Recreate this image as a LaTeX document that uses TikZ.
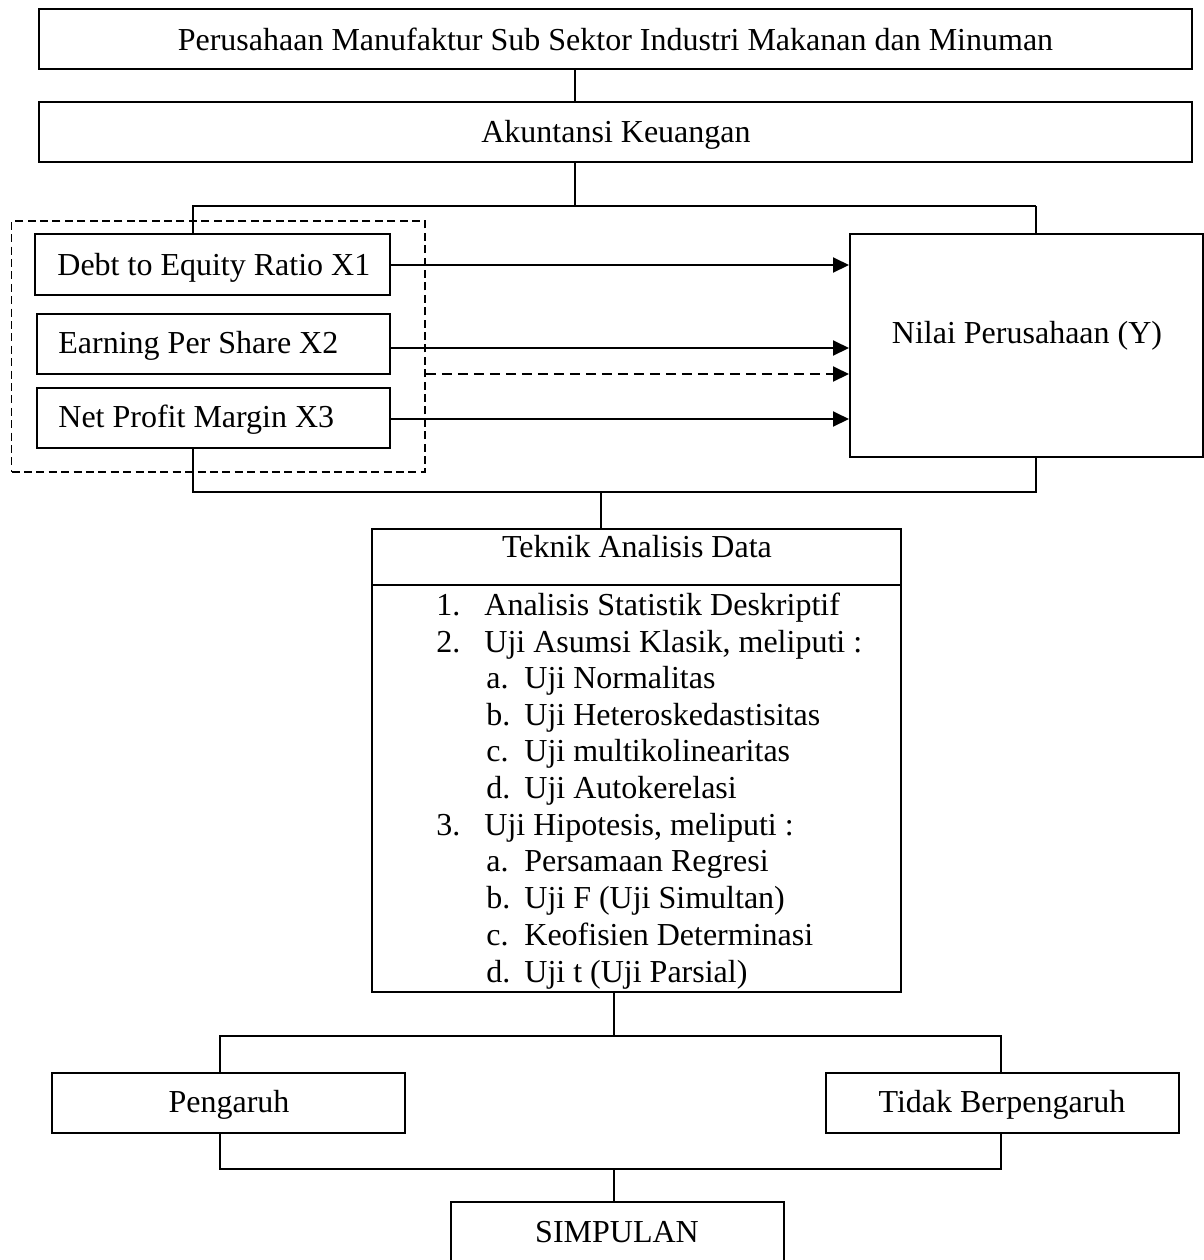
\documentclass[tikz,border=0pt]{standalone}
\usepackage{fontspec}
\setmainfont{Liberation Serif}
\usetikzlibrary{arrows.meta}
\begin{document}
\begin{tikzpicture}[x=0.5pt,y=-0.5pt,
  boxst/.style={draw, line width=1pt, inner sep=0pt, anchor=center},
  txt/.style={inner sep=0pt, font=\fontsize{16}{19}\selectfont},
  thinline/.style={line width=0.55pt},
  medline/.style={line width=1pt},
  arr/.style={line width=1pt, -{Triangle[length=8pt,width=7.5pt]}},
  dashbox/.style={draw, line width=0.75pt, dash pattern=on 4pt off 2.2pt, inner sep=0pt, anchor=center}
]
\useasboundingbox (0,0) rectangle (1204,1260);
\fill[white] (0,0) rectangle (1204,1260);

% boxes
\node[boxst, minimum width=576.5pt, minimum height=30pt] (top) at (615.5,39) {};
\node[boxst, minimum width=576.5pt, minimum height=30pt] (akun) at (615.5,132) {};
\node[dashbox, minimum width=206.75pt, minimum height=125.5pt] (dbox) at (218.25,346.5) {};
\node[boxst, fill=white, minimum width=177.5pt, minimum height=30.5pt] (x1) at (212.5,264.5) {};
\node[boxst, fill=white, minimum width=176.5pt, minimum height=30pt] (x2) at (213.5,344) {};
\node[boxst, fill=white, minimum width=176.5pt, minimum height=30pt] (x3) at (213.5,418) {};
\node[boxst, minimum width=176.5pt, minimum height=111.5pt] (nilai) at (1026.5,345.5) {};
\node[boxst, minimum width=264.5pt, minimum height=231.5pt] (teknik) at (636.5,760.5) {};
\node[boxst, minimum width=176.5pt, minimum height=30pt] (peng) at (228.5,1103) {};
\node[boxst, minimum width=176.5pt, minimum height=30pt] (tidak) at (1002.5,1103) {};
\node[boxst, minimum width=166.5pt, minimum height=36.5pt] (simp) at (617.5,1238.5) {};

% texts
\node[txt, anchor=base] (ttop) at (615.5,50) {Perusahaan Manufaktur Sub Sektor Industri Makanan dan Minuman};
\node[txt, anchor=base] (takun) at (616,142) {Akuntansi Keuangan};
\node[txt, anchor=base west] (tx1) at (57,275) {Debt to Equity Ratio X1};
\node[txt, anchor=base west] (tx2) at (58,353) {Earning Per Share X2};
\node[txt, anchor=base west] (tx3) at (58,427) {Net Profit Margin X3};
\node[txt, anchor=base] (tnilai) at (1027,343) {Nilai Perusahaan (Y)};
\node[txt, anchor=base] (ttek) at (637,557) {Teknik Analisis Data};

\node[txt, anchor=base west] (n1) at (436,615) {1.};
\node[txt, anchor=base west] (i1) at (484,615) {Analisis Statistik Deskriptif};
\node[txt, anchor=base west] (n2) at (436,652) {2.};
\node[txt, anchor=base west] (i2) at (484,652) {Uji Asumsi Klasik, meliputi :};
\node[txt, anchor=base west] (n2a) at (486,688) {a.};
\node[txt, anchor=base west] (i2a) at (524,688) {Uji Normalitas};
\node[txt, anchor=base west] (n2b) at (486,725) {b.};
\node[txt, anchor=base west] (i2b) at (524,725) {Uji Heteroskedastisitas};
\node[txt, anchor=base west] (n2c) at (486,761) {c.};
\node[txt, anchor=base west] (i2c) at (524,761) {Uji multikolinearitas};
\node[txt, anchor=base west] (n2d) at (486,798) {d.};
\node[txt, anchor=base west] (i2d) at (524,798) {Uji Autokerelasi};
\node[txt, anchor=base west] (n3) at (436,835) {3.};
\node[txt, anchor=base west] (i3) at (484,835) {Uji Hipotesis, meliputi :};
\node[txt, anchor=base west] (n3a) at (486,871) {a.};
\node[txt, anchor=base west] (i3a) at (524,871) {Persamaan Regresi};
\node[txt, anchor=base west] (n3b) at (486,908) {b.};
\node[txt, anchor=base west] (i3b) at (524,908) {Uji F (Uji Simultan)};
\node[txt, anchor=base west] (n3c) at (486,945) {c.};
\node[txt, anchor=base west] (i3c) at (524,945) {Keofisien Determinasi};
\node[txt, anchor=base west] (n3d) at (486,982) {d.};
\node[txt, anchor=base west] (i3d) at (524,982) {Uji t (Uji Parsial)};

\node[txt, anchor=base] (tpeng) at (229,1112) {Pengaruh};
\node[txt, anchor=base] (ttidak) at (1002,1112) {Tidak Berpengaruh};
\node[txt, anchor=base] (tsimp) at (617,1242) {SIMPULAN};

% divider in teknik box
\draw[medline] (teknik.west |- 0,585) -- (teknik.east |- 0,585);

% junction coordinates
\coordinate (j0) at (575,85);
\coordinate (j1) at (575,206);
\coordinate (j1l) at (193,206);
\coordinate (j1r) at (1036,206);
\coordinate (j2) at (601,492);
\coordinate (j2l) at (193,492);
\coordinate (j2r) at (1036,492);
\coordinate (j3) at (614,1036);
\coordinate (j3l) at (220,1036);
\coordinate (j3r) at (1001,1036);
\coordinate (j4) at (614,1169);
\coordinate (j4l) at (220,1169);
\coordinate (j4r) at (1001,1169);

% connectors
\draw[thinline] (top.south -| j0) -- (akun.north -| j0);
\draw[thinline] (akun.south -| j1) -- (j1);
\draw[thinline] (x1.north -| j1l) -- (j1l) -- (j1r);
\draw[medline] (j1r) -- (nilai.north -| j1r);
\draw[medline] (x3.south -| j2l) -- (j2l) -- (j2r) -- (nilai.south -| j2r);
\draw[thinline] (j2) -- (teknik.north -| j2);
\draw[thinline] (teknik.south -| j3) -- (j3);
\draw[thinline] (peng.north -| j3l) -- (j3l) -- (j3r) -- (tidak.north -| j3r);
\draw[thinline] (peng.south -| j4l) -- (j4l) -- (j4r) -- (tidak.south -| j4r);
\draw[thinline] (j4) -- (simp.north -| j4);

% arrows
\draw[arr] (x1.east |- 0,265) -- (nilai.west |- 0,265);
\draw[arr] (x2.east |- 0,348) -- (nilai.west |- 0,348);
\draw[arr, dash pattern=on 5pt off 3pt] (dbox.east |- 0,374) -- (nilai.west |- 0,374);
\draw[arr] (x3.east |- 0,419) -- (nilai.west |- 0,419);
\end{tikzpicture}
\end{document}
